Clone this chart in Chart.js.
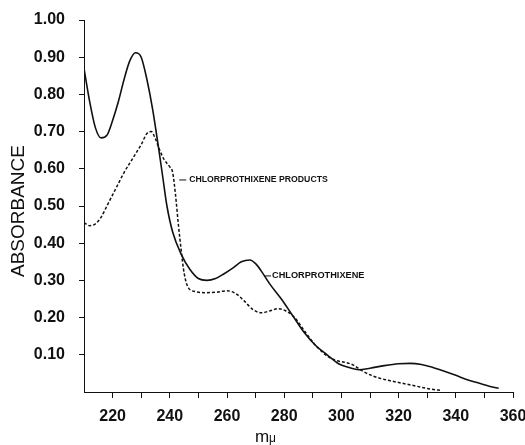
<!DOCTYPE html>
<html>
<head>
<meta charset="utf-8">
<script src="https://cdn.jsdelivr.net/npm/chart.js@4/dist/chart.umd.min.js"></script>
<style>
  body { margin: 0; background: #fff; }
</style>
</head>
<body>
<canvas id="spectrum" width="525" height="445"></canvas>
<script>
// chlorprothixene (solid line)
var chlorWave = [210, 212, 214, 216, 218, 220, 222, 224, 226, 228, 230, 232, 234, 236, 237.5, 239, 241, 244, 247, 250,
    253, 256, 259, 262, 265, 268, 270, 272, 275, 279, 283, 287, 291, 295, 299, 303, 306, 310, 315, 320,
    324, 328, 332, 336, 340, 344, 348, 352, 355];
var chlorAbs = [0.87, 0.78, 0.71, 0.683, 0.69, 0.73, 0.78, 0.84, 0.89, 0.912, 0.90, 0.84, 0.76, 0.66, 0.58, 0.50, 0.43, 0.37, 0.33, 0.305,
    0.30, 0.305, 0.318, 0.333, 0.35, 0.355, 0.345, 0.325, 0.29, 0.25, 0.205, 0.16, 0.125, 0.10, 0.076, 0.065, 0.06, 0.064, 0.071, 0.076,
    0.077, 0.074, 0.066, 0.056, 0.045, 0.033, 0.024, 0.015, 0.01];

// chlorprothixene products (dotted line)
var prodWave = [210, 212, 214, 216, 218, 220, 222, 224, 226, 228, 230, 232, 233.5, 235, 236.5, 238, 240, 241, 242, 243,
    244, 245, 246.5, 249, 252, 256, 260, 263, 266, 269, 272, 275, 278, 281, 284, 287, 291, 295, 298, 301,
    304, 307, 311, 316, 321, 326, 331, 335];
var prodAbs = [0.455, 0.447, 0.452, 0.47, 0.50, 0.53, 0.56, 0.59, 0.615, 0.64, 0.665, 0.695, 0.70, 0.68, 0.65, 0.625, 0.605, 0.59, 0.53, 0.45,
    0.38, 0.32, 0.28, 0.27, 0.267, 0.268, 0.272, 0.265, 0.245, 0.222, 0.213, 0.218, 0.224, 0.216, 0.197, 0.165, 0.125, 0.097, 0.085, 0.08,
    0.073, 0.058, 0.043, 0.032, 0.024, 0.016, 0.008, 0.004];

var xLabels = [220, 240, 260, 280, 300, 320, 340, 360];
var curveNames = ["CHLORPROTHIXENE", "CHLORPROTHIXENE PRODUCTS"];

function toPoints(xs, ys) {
    var pts = [];
    for (var i = 0; i < xs.length; i++) pts.push({x: xs[i], y: ys[i]});
    return pts;
}

var fontName = "'Liberation Sans', Arial, sans-serif";

// titles and the two curve captions
var textPlugin = {
    id: 'texts',
    afterDraw: function (chart) {
        var ctx = chart.ctx;
        var xs = chart.scales.x, ys = chart.scales.y;
        ctx.save();
        ctx.fillStyle = '#111';
        ctx.strokeStyle = '#111';
        ctx.lineWidth = 1;

        // y title
        ctx.save();
        ctx.translate(19, 211);
        ctx.rotate(-Math.PI / 2);
        ctx.font = '19px ' + fontName;
        ctx.textAlign = 'center';
        ctx.textBaseline = 'middle';
        ctx.fillText('ABSORBANCE', 0, 0);
        ctx.restore();

        // x title  m + small mu
        ctx.textBaseline = 'alphabetic';
        ctx.textAlign = 'left';
        ctx.font = '17px ' + fontName;
        ctx.fillText('m', 255, 442);
        ctx.font = '12px ' + fontName;
        ctx.fillText('\u03bc', 269, 442);

        // captions with small leaders
        ctx.textBaseline = 'middle';
        var px = xs.getPixelForValue(243.3), py = ys.getPixelForValue(0.57);
        ctx.beginPath();
        ctx.moveTo(px, py);
        ctx.lineTo(px + 7, py);
        ctx.stroke();
        ctx.font = 'bold 8.7px ' + fontName;
        ctx.fillText(curveNames[1], px + 10, py);

        var cx = xs.getPixelForValue(273.3), cy = ys.getPixelForValue(0.312);
        ctx.beginPath();
        ctx.moveTo(cx, cy);
        ctx.lineTo(cx + 6, cy);
        ctx.stroke();
        ctx.font = 'bold 9.2px ' + fontName;
        ctx.fillText(curveNames[0], cx + 7, cy);
        ctx.restore();
    }
};

new Chart(document.getElementById('spectrum'), {
    type: 'line',
    data: {
        datasets: [{
            label: curveNames[0],
            data: toPoints(chlorWave, chlorAbs),
            borderColor: '#111',
            borderWidth: 1.6,
            pointRadius: 0,
            tension: 0.4,
            cubicInterpolationMode: 'monotone'
        }, {
            label: curveNames[1],
            data: toPoints(prodWave, prodAbs),
            borderColor: '#111',
            borderWidth: 1.5,
            borderDash: [3, 2],
            pointRadius: 0,
            tension: 0.4,
            cubicInterpolationMode: 'monotone'
        }]
    },
    options: {
        responsive: false,
        animation: false,
        devicePixelRatio: 1,
        layout: {autoPadding: false, padding: {top: 20, right: 12, left: 0, bottom: 0}},
        plugins: {legend: {display: false}, tooltip: {enabled: false}},
        scales: {
            x: {
                type: 'linear',
                min: 210,
                max: 360,
                afterFit: function (s) {
                    s.height = 53;
                    s.paddingLeft = 0;
                    s.paddingRight = 0;
                },
                border: {display: true, color: '#111', width: 1},
                grid: {drawOnChartArea: false, drawTicks: true, tickLength: 6, color: '#111'},
                ticks: {
                    stepSize: 10,
                    padding: 9,
                    autoSkip: false,
                    maxRotation: 0,
                    minRotation: 0,
                    color: '#111',
                    font: {family: fontName, size: 16, weight: 'bold'},
                    callback: function (v) {
                        if (v === 210) return null;
                        return xLabels.indexOf(v) >= 0 ? String(v) : '';
                    }
                }
            },
            y: {
                min: 0,
                max: 1,
                afterFit: function (s) {
                    s.width = 84;
                    s.paddingTop = 0;
                    s.paddingBottom = 0;
                },
                border: {display: true, color: '#111', width: 1},
                grid: {drawOnChartArea: false, drawTicks: true, tickLength: 5, color: '#111'},
                ticks: {
                    stepSize: 0.1,
                    padding: 14,
                    color: '#111',
                    font: {family: fontName, size: 16, weight: 'bold'},
                    callback: function (v) {
                        if (Math.abs(v) < 1e-9) return null;
                        return v.toFixed(2);
                    }
                }
            }
        }
    },
    plugins: [textPlugin]
});
</script>
</body>
</html>
